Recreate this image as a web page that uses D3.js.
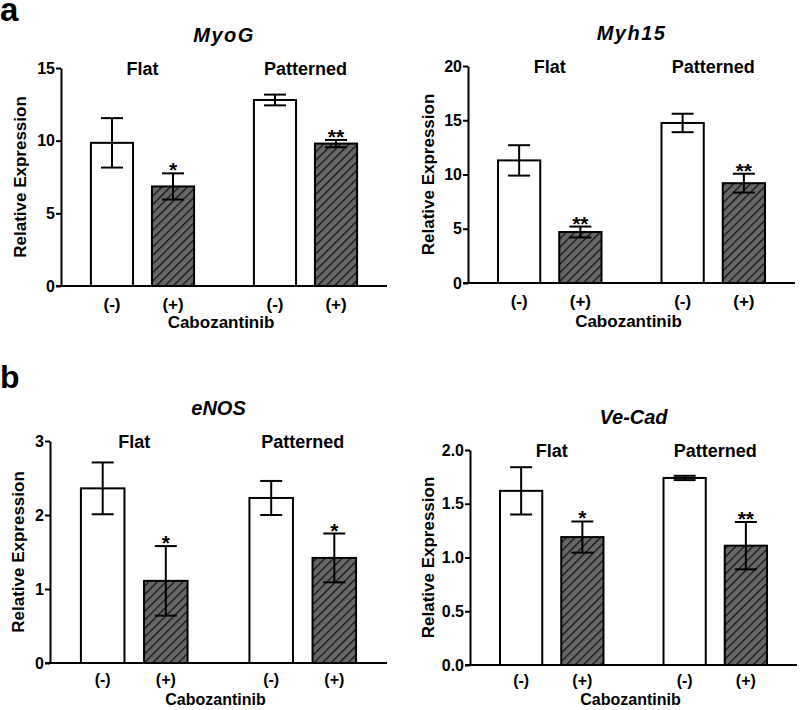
<!DOCTYPE html>
<html>
<head>
<meta charset="utf-8">
<script src="https://cdn.jsdelivr.net/npm/d3@7"></script>
<style>
  body { margin: 0; background: #fff; }
  text { font-family: "Liberation Sans", Arial, sans-serif; font-weight: bold; fill: #000; }
</style>
</head>
<body>
<svg id="chart" width="800" height="710"></svg>
<script>
// ---------- DATA ----------
const genes = ["MyoG", "Myh15", "eNOS", "Ve-Cad"];
const substrates = ["Flat", "Patterned"];
const treatments = ["(-)", "(+)"];
const xAxisTitle = "Cabozantinib";
const yAxisTitle = "Relative Expression";
const panelLetters = ["a", "b"];

// order: Flat(-), Flat(+), Patterned(-), Patterned(+)
const meansMyoG  = [9.85, 6.85, 12.8, 9.8];
const meansMyh15 = [11.3, 4.7, 14.75, 9.2];
const meansENOS  = [2.36, 1.11, 2.23, 1.42];
const meansVeCad = [1.62, 1.19, 1.74, 1.11];

const errMyoG  = [1.7, 0.9, 0.37, 0.25];
const errMyh15 = [1.4, 0.5, 0.85, 0.87];
const errENOS  = [0.35, 0.47, 0.23, 0.33];
const errVeCad = [0.22, 0.145, 0.02, 0.22];

const sigMyoG  = ["", "*", "", "**"];
const sigMyh15 = ["", "**", "", "**"];
const sigENOS  = ["", "*", "", "*"];
const sigVeCad = ["", "*", "", "**"];

const yMaxes = [15, 20, 3, 2];
const ticksMyoG  = [0, 5, 10, 15];
const ticksMyh15 = [0, 5, 10, 15, 20];
const ticksENOS  = [0, 1, 2, 3];
const ticksVeCad = [0, 0.5, 1.0, 1.5, 2.0];
const tickFormats = ["d", "d", "d", ".1f"];

const means = [meansMyoG, meansMyh15, meansENOS, meansVeCad];
const errs = [errMyoG, errMyh15, errENOS, errVeCad];
const sigs = [sigMyoG, sigMyh15, sigENOS, sigVeCad];
const tickLists = [ticksMyoG, ticksMyh15, ticksENOS, ticksVeCad];

// ---------- LAYOUT ----------
const layout = [
  { x0: 61,  x1: 387, yTop: 68,  yBot: 286, ylabX: 20,  trY: 310, xTitleY: 328, lblSize: 17 },
  { x0: 468, x1: 795, yTop: 66,  yBot: 283, ylabX: 428, trY: 307, xTitleY: 327, lblSize: 17 },
  { x0: 50,  x1: 387, yTop: 441, yBot: 663, ylabX: 18,  trY: 685, xTitleY: 705, lblSize: 16 },
  { x0: 470, x1: 797, yTop: 450, yBot: 665, ylabX: 428, trY: 686, xTitleY: 705, lblSize: 16 }
];

const svg = d3.select("#chart");
svg.append("rect").attr("width", 800).attr("height", 710).attr("fill", "#fff");

const defs = svg.append("defs");
const pat = defs.append("pattern")
  .attr("id", "hatch")
  .attr("patternUnits", "userSpaceOnUse")
  .attr("width", 6).attr("height", 6)
  .attr("patternTransform", "rotate(45)");
pat.append("rect").attr("width", 6).attr("height", 6).attr("fill", "#676767");
pat.append("line").attr("x1", 0).attr("y1", 0).attr("x2", 0).attr("y2", 6)
  .attr("stroke", "#111").attr("stroke-width", 2.6);

// panel letters
svg.append("text").attr("x", 0).attr("y", 21).attr("font-size", 33).text(panelLetters[0]);
svg.append("text").attr("x", 0).attr("y", 388).attr("font-size", 32).text(panelLetters[1]);

genes.forEach((gene, gi) => {
  const L = layout[gi];
  const g = svg.append("g");

  const y = d3.scaleLinear().domain([0, yMaxes[gi]]).range([L.yBot, L.yTop]);
  const xOuter = d3.scaleBand().domain(substrates).range([L.x0, L.x1]).paddingInner(0).paddingOuter(0);
  const xInner = d3.scaleBand().domain(treatments).range([0, xOuter.bandwidth()])
    .paddingInner(0.31).paddingOuter(0.49);

  const rows = [];
  substrates.forEach((s, si) => treatments.forEach((t, ti) => {
    const k = si * 2 + ti;
    rows.push({ s, t, ti, v: means[gi][k], e: errs[gi][k], sig: sigs[gi][k] });
  }));

  // bars
  g.selectAll("rect.bar").data(rows).join("rect")
    .attr("class", "bar")
    .attr("x", d => xOuter(d.s) + xInner(d.t))
    .attr("width", xInner.bandwidth())
    .attr("y", d => y(d.v))
    .attr("height", d => y(0) - y(d.v))
    .attr("fill", d => d.ti === 0 ? "#fff" : "url(#hatch)")
    .attr("stroke", "#000").attr("stroke-width", 2);

  // error bars
  const cx = d => xOuter(d.s) + xInner(d.t) + xInner.bandwidth() / 2;
  const capW = 11;
  const eb = g.selectAll("g.err").data(rows).join("g").attr("class", "err");
  eb.append("line").attr("x1", cx).attr("x2", cx)
    .attr("y1", d => y(d.v + d.e)).attr("y2", d => y(d.v - d.e))
    .attr("stroke", "#000").attr("stroke-width", 2);
  eb.append("line").attr("x1", d => cx(d) - capW).attr("x2", d => cx(d) + capW)
    .attr("y1", d => y(d.v + d.e)).attr("y2", d => y(d.v + d.e))
    .attr("stroke", "#000").attr("stroke-width", 2);
  eb.append("line").attr("x1", d => cx(d) - capW).attr("x2", d => cx(d) + capW)
    .attr("y1", d => y(d.v - d.e)).attr("y2", d => y(d.v - d.e))
    .attr("stroke", "#000").attr("stroke-width", 2);

  // significance stars
  g.selectAll("text.sig").data(rows.filter(d => d.sig)).join("text")
    .attr("class", "sig")
    .attr("x", cx).attr("y", d => y(d.v + d.e) + 4)
    .attr("text-anchor", "middle").attr("font-size", 21)
    .text(d => d.sig);

  // y axis
  const yAxis = d3.axisLeft(y).tickValues(tickLists[gi]).tickSize(5).tickSizeOuter(0)
    .tickFormat(d3.format(tickFormats[gi]));
  const ya = g.append("g").attr("transform", `translate(${L.x0},0)`).call(yAxis);
  ya.select(".domain").attr("stroke-width", 2);
  ya.selectAll(".tick line").attr("stroke-width", 2);
  ya.selectAll(".tick text").attr("font-size", 16).attr("font-family", "Liberation Sans, Arial, sans-serif")
    .attr("font-weight", "bold").attr("x", -6);

  // x axis (line only)
  const xAxis = d3.axisBottom(xOuter).tickSize(0).tickSizeOuter(0).tickFormat("");
  const xa = g.append("g").attr("transform", `translate(0,${L.yBot})`).call(xAxis);
  xa.select(".domain").attr("stroke-width", 2).attr("d", `M${L.x0 - 5},0H${L.x1}`);

  // treatment labels
  g.selectAll("text.tr").data(rows).join("text")
    .attr("class", "tr")
    .attr("x", cx).attr("y", L.trY)
    .attr("text-anchor", "middle").attr("font-size", L.lblSize)
    .text(d => d.t);

  // substrate labels
  g.selectAll("text.sub").data(substrates).join("text")
    .attr("class", "sub")
    .attr("x", d => xOuter(d) + xOuter.bandwidth() / 2)
    .attr("y", L.yTop + 7)
    .attr("text-anchor", "middle").attr("font-size", 18)
    .text(d => d);

  const midX = (L.x0 + L.x1) / 2;
  // x title
  g.append("text").attr("x", midX - 3).attr("y", L.xTitleY)
    .attr("text-anchor", "middle").attr("font-size", L.lblSize).text(xAxisTitle);

  // gene title
  g.append("text").attr("x", midX).attr("y", L.yTop - 26)
    .attr("text-anchor", "middle").attr("font-size", 20).attr("font-style", "italic")
    .attr("letter-spacing", gi < 2 ? 1.5 : 0)
    .text(gene);

  // y title
  g.append("text")
    .attr("transform", `translate(${L.ylabX + 6},${(L.yTop + L.yBot) / 2}) rotate(-90)`)
    .attr("text-anchor", "middle").attr("font-size", 17).text(yAxisTitle);
});
</script>
</body>
</html>
